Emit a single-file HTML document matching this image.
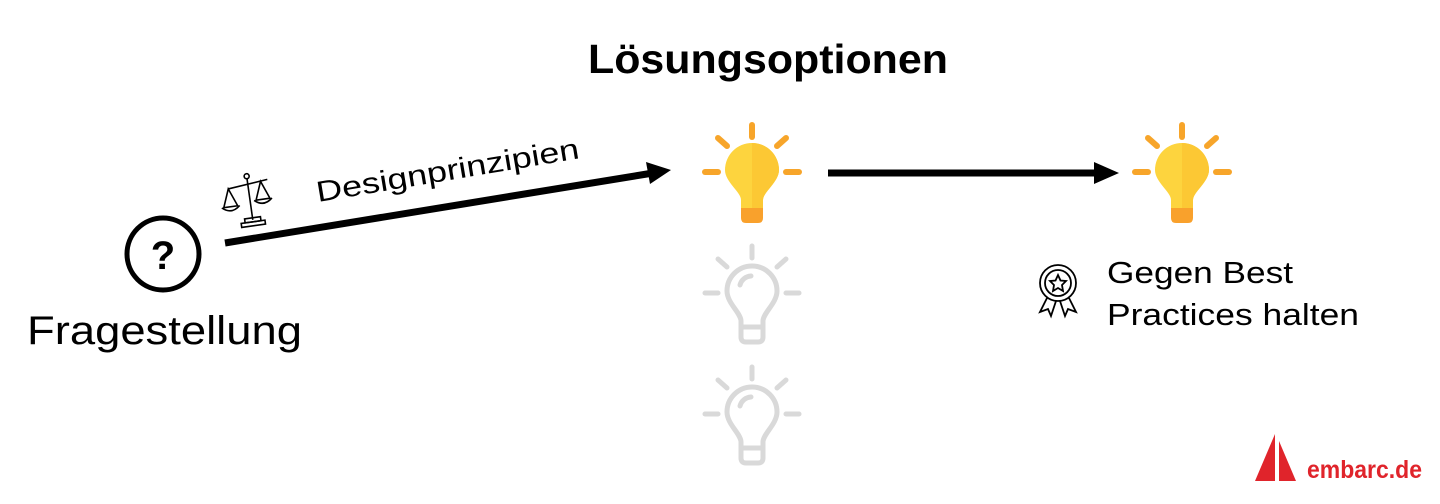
<!DOCTYPE html>
<html><head><style>html,body{margin:0;padding:0;background:#fff;}svg{display:block}</style></head>
<body>
<svg width="1440" height="504" viewBox="0 0 1440 504" xmlns="http://www.w3.org/2000/svg" font-family="Liberation Sans, sans-serif">
<defs>
<g id="ybulb">
  <g stroke="#f7a52a" stroke-width="6" stroke-linecap="round">
    <line x1="0" y1="-47" x2="0" y2="-35"/>
    <line x1="-34" y1="-34" x2="-25" y2="-26"/>
    <line x1="34" y1="-34" x2="25" y2="-26"/>
    <line x1="-47" y1="0" x2="-34" y2="0"/>
    <line x1="47" y1="0" x2="34" y2="0"/>
  </g>
  <path d="M-11,36 L-11,28 C-11,20 -27,10 -27,-2 A27,27 0 0 1 27,-2 C27,10 11,20 11,28 L11,36 Z" fill="#fdd43e"/>
  <path d="M0,-29 A27,27 0 0 1 27,-2 C27,10 11,20 11,28 L11,36 L0,36 Z" fill="#fcc834"/>
  <path d="M-11,36 L11,36 L11,46 Q11,51 6,51 L-6,51 Q-11,51 -11,46 Z" fill="#f9a12c"/>
</g>
<g id="gbulb" stroke="#d9d9d9" stroke-width="5" stroke-linecap="round" fill="none">
  <line x1="0" y1="-47" x2="0" y2="-35"/>
  <line x1="-34" y1="-34" x2="-25" y2="-26"/>
  <line x1="34" y1="-34" x2="25" y2="-26"/>
  <line x1="-47" y1="0" x2="-34" y2="0"/>
  <line x1="47" y1="0" x2="34" y2="0"/>
  <path d="M-11,34 L-11,28 C-11,20 -25,10 -25,-2 A25,25 0 0 1 25,-2 C25,10 11,20 11,28 L11,34 Z"/>
  <path d="M-11,34 L-11,44 Q-11,49 -6,49 L6,49 Q11,49 11,44 L11,34"/>
  <path d="M-12,-8 A12,12 0 0 1 -1,-17"/>
</g>
</defs>

<text x="588" y="73" font-size="41" font-weight="bold" fill="#000" textLength="360" lengthAdjust="spacingAndGlyphs">Lösungsoptionen</text>

<!-- question -->
<circle cx="163" cy="254" r="36" fill="none" stroke="#000" stroke-width="5"/>
<text x="163" y="269" text-anchor="middle" font-size="40" font-weight="bold">?</text>
<text x="27" y="344" font-size="40" textLength="275" lengthAdjust="spacingAndGlyphs">Fragestellung</text>

<!-- scales icon -->
<g stroke="#000" stroke-width="1.6" fill="none" transform="rotate(-8 250 200)">
  <line x1="250" y1="178" x2="250" y2="220"/>
  <circle cx="250" cy="176" r="2.5"/>
  <line x1="230" y1="186" x2="270" y2="182"/>
  <path d="M230,186 L223,204 L237,204 Z M263,183 L256,201 L270,201 Z"/>
  <path d="M221,204 Q230,212 239,204 M254,201 Q263,209 272,201"/>
  <rect x="242" y="218" width="16" height="4"/><rect x="238" y="222" width="24" height="4"/>
</g>

<!-- arrow 1 -->
<line x1="225" y1="243" x2="650" y2="173.5" stroke="#000" stroke-width="7"/>
<polygon points="671,170 646,162 650,184" fill="#000"/>
<text x="0" y="0" font-size="29" transform="translate(318,202) rotate(-9.5)" textLength="266" lengthAdjust="spacingAndGlyphs">Designprinzipien</text>

<use href="#ybulb" x="752" y="172"/>
<use href="#gbulb" x="752" y="293"/>
<use href="#gbulb" x="752" y="414"/>

<!-- arrow 2 -->
<line x1="828" y1="173" x2="1098" y2="173" stroke="#000" stroke-width="7"/>
<polygon points="1119,173 1094,162 1094,184" fill="#000"/>

<use href="#ybulb" x="1182" y="172"/>

<!-- award icon -->
<g stroke="#000" stroke-width="1.8" fill="none">
  <circle cx="1058" cy="283" r="18"/><circle cx="1058" cy="283" r="13"/>
  <polygon points="1058,275 1060.5,280.5 1066,281 1062,285 1063,291 1058,288 1053,291 1054,285 1050,281 1055.5,280.5"/>
  <path d="M1047,298 L1040,312 L1048,309 L1051,316 L1056,301 M1069,298 L1076,312 L1068,309 L1065,316 L1060,301"/>
</g>
<text x="1107" y="283" font-size="31" textLength="186" lengthAdjust="spacingAndGlyphs">Gegen Best</text>
<text x="1107" y="325" font-size="31" textLength="252" lengthAdjust="spacingAndGlyphs">Practices halten</text>

<!-- logo -->
<polygon points="1275,434 1275,481 1255,481" fill="#e0242b"/>
<polygon points="1279,441 1279,481 1296,481" fill="#e0242b"/>
<text x="1307" y="478" font-size="25" font-weight="bold" fill="#e0242b" textLength="115" lengthAdjust="spacingAndGlyphs">embarc.de</text>
</svg>
</body></html>
